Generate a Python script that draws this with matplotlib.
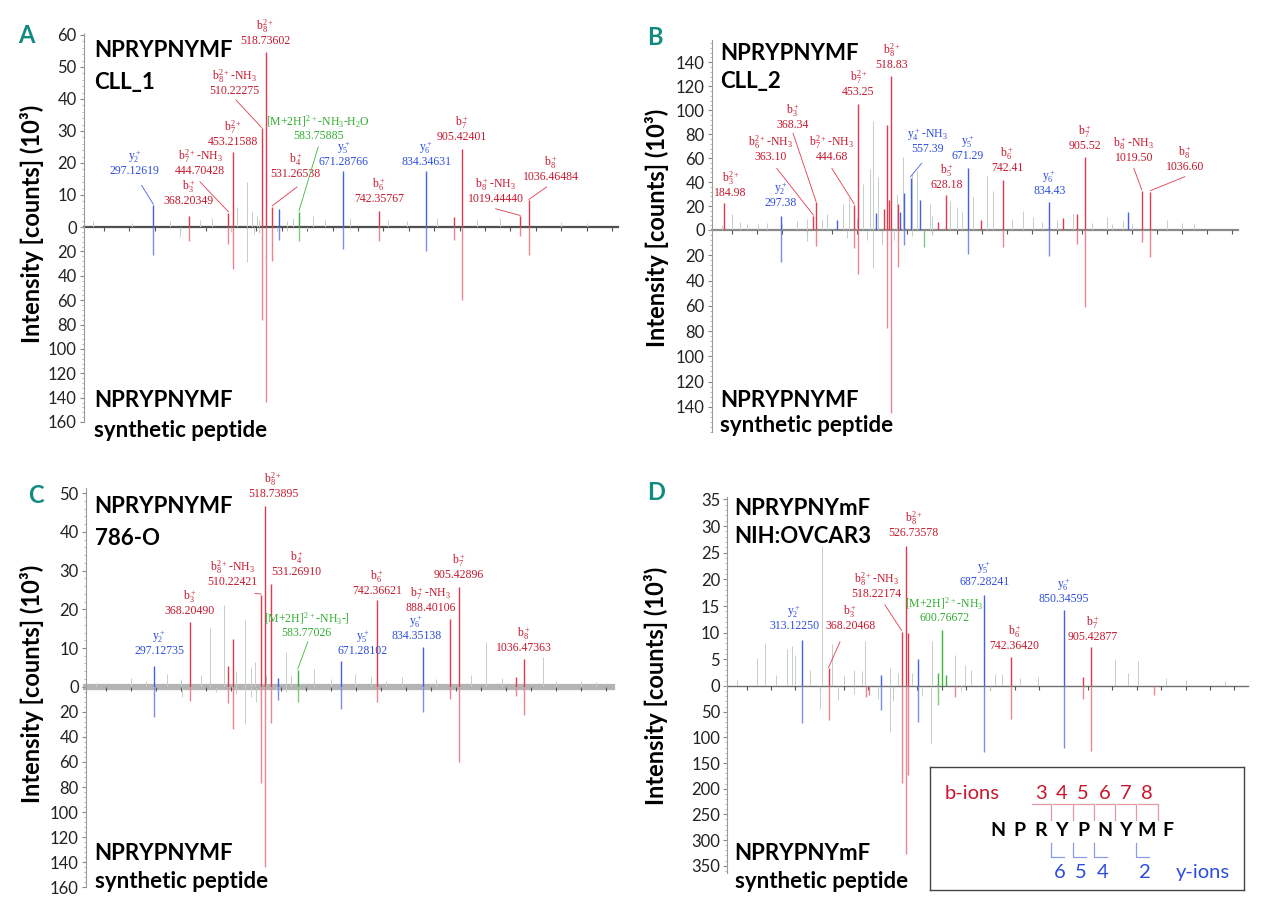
import matplotlib
matplotlib.use("Agg")
import matplotlib.pyplot as plt
from matplotlib.ticker import AutoMinorLocator

W, H = 1280, 915

plt.rcParams['font.family'] = ['Lato', 'DejaVu Sans']
plt.rcParams['mathtext.default'] = 'regular'

# ---------------- panel A : CLL_1 (top) vs synthetic peptide (bottom) ----------------
A_kind = ["y", "b", "b", "b", "b", "b", "b", "y", "m", "y", "b", "y", "b", "b", "b", "b"]
A_ion = ["y$_2^+$", "b$_3^+$", "b$_7^{2+}$-NH$_3$", "b$_7^{2+}$", "b$_8^{2+}$-NH$_3$", "b$_8^{2+}$",
         "b$_4^+$", "", "[M+2H]$^{2+}$-NH$_3$-H$_2$O", "y$_5^+$", "b$_6^+$", "y$_6^+$", "",
         "b$_7^+$", "b$_8^+$-NH$_3$", "b$_8^+$"]
A_mzlab = ["297.12619", "368.20349", "444.70428", "453.21588", "510.22275", "518.73602", "531.26538", "",
           "583.75885", "671.28766", "742.35767", "834.34631", "", "905.42401", "1019.44440", "1036.46484"]
A_mz = [297.13, 368.20, 444.70, 453.22, 510.22, 518.74, 531.27, 544.6, 583.76, 671.29, 742.36, 834.35,
        888.4, 905.42, 1019.44, 1036.46]
A_up = [6.8, 3.3, 4.5, 23.5, 30.8, 54.8, 6.3, 5.7, 4.7, 17.5, 5.0, 17.5, 3.1, 24.5, 3.3, 8.3]
A_down = [23.2, 11.5, 13.7, 34.2, 76.6, 143.6, 27.9, 10.4, 11.5, 17.8, 11.5, 19.7, 10.4, 60.2, 7.7, 22.7]
A_noise_mz = [179, 254.5, 330, 389, 412, 461, 481, 490.7, 500.6, 505.7, 559.6, 572.6, 612, 635, 684.2,
              759.6, 795.8, 854.9, 933.6, 979.5, 1100, 1150]
A_noise_up = [1.8, 1.2, 1.8, 2.3, 2.8, 6.4, 14.2, 4.9, 3.3, 2.3, 1.8, 2.8, 3.3, 2.3, 2.8, 2.3, 1.8, 2.8,
              2.3, 2.8, 1.5, 1.2]
A_noise_mz_low = [348.7, 450, 481.2, 495, 505, 540, 560, 600]
A_noise_down = [8.2, 4, 28.7, 6, 5, 3, 3, 2]

# ---------------- panel B : CLL_2 ----------------
B_kind = ["b", "y", "b", "b", "y", "b", "b", "y", "b", "b", "b", "b", "b", "y", "y", "y", "y", "m", "b",
          "b", "y", "b", "b", "y", "b", "b", "b", "y", "b", "b"]
B_ion = ["b$_3^{2+}$", "y$_2^+$", "b$_6^{2+}$-NH$_3$", "b$_3^+$", "", "b$_7^{2+}$-NH$_3$", "b$_7^{2+}$", "",
         "", "", "", "b$_8^{2+}$", "", "", "", "y$_4^+$-NH$_3$", "", "", "", "b$_5^+$", "y$_5^+$", "",
         "b$_6^+$", "y$_6^+$", "", "", "b$_7^+$", "", "b$_8^+$-NH$_3$", "b$_8^+$"]
B_mzlab = ["184.98", "297.38", "363.10", "368.34", "", "444.68", "453.25", "", "", "", "", "518.83", "", "",
           "", "557.39", "", "", "", "628.18", "671.29", "", "742.41", "834.43", "", "", "905.52", "",
           "1019.50", "1036.60"]
B_mz = [184.98, 297.38, 363.10, 368.34, 409.7, 444.68, 453.25, 488.1, 504.4, 510.9, 515.0, 518.83, 532.1,
        537.0, 545.2, 557.39, 575.4, 585.2, 612.1, 628.18, 671.29, 698.6, 742.41, 834.43, 861.9, 889.6,
        905.52, 991.6, 1019.50, 1036.60]
B_up = [22.3, 11.7, 11.7, 23.1, 8.3, 20.9, 105.2, 14.5, 17.3, 87.7, 25.0, 128.6, 21.7, 15.3, 30.6, 43.7,
        25.0, 0, 7.0, 29.2, 51.5, 8.3, 41.7, 23.7, 10.0, 13.1, 61.2, 15.0, 32.8, 32.0]
B_down = [0, 25.1, 0, 12.7, 0, 14.5, 35.2, 0, 0, 78.0, 0, 145.0, 29.1, 0, 11.9, 0, 0, 13.2, 0, 0, 19.0, 0,
          13.2, 20.6, 0, 11.1, 61.3, 0, 9.3, 21.7]
B_noise_mz = [180, 199.8, 216.4, 230, 253, 270, 300, 329.7, 349.7, 380, 389.7, 422.9, 434.9, 450, 462.9,
              476.3, 481.6, 492.9, 509.7, 529.7, 541.6, 559.6, 569.6, 596.2, 600, 636.2, 649.6, 660, 682.8,
              709.6, 722.8, 760, 782.7, 802.7, 820, 850, 882.7, 920, 949.5, 960, 982.7, 1000, 1070, 1100, 1125]
B_noise_up = [4, 13.4, 6.4, 5, 5, 6, 5, 7.8, 9.2, 8, 13.4, 21.7, 27.3, 10, 38.4, 50.9, 91.3, 44.2, 27.3, 30,
              60.9, 46.7, 49.5, 21.7, 12, 24.5, 18.9, 15, 27.3, 45.4, 32.8, 9, 16.1, 10.6, 7, 8, 13.4, 6,
              10.6, 5, 7.8, 5, 8, 6, 5]
B_noise_mz_low = [350, 430, 470, 481.6, 500, 525, 560, 600]
B_noise_down = [9, 6, 8, 30.4, 12, 8, 5, 4]

# ---------------- panel C : 786-O ----------------
C_kind = ["y", "b", "b", "b", "b", "b", "b", "y", "m", "y", "b", "y", "b", "b", "b", "b"]
C_ion = ["y$_2^+$", "b$_3^+$", "", "", "b$_8^{2+}$-NH$_3$", "b$_8^{2+}$", "b$_4^+$", "",
         "[M+2H]$^{2+}$-NH$_3$-]", "y$_5^+$", "b$_6^+$", "y$_6^+$", "b$_7^+$-NH$_3$", "b$_7^+$", "", "b$_8^+$"]
C_mzlab = ["297.12735", "368.20490", "", "", "510.22421", "518.73895", "531.26910", "", "583.77026",
           "671.28102", "742.36621", "834.35138", "888.40106", "905.42896", "", "1036.47363"]
C_mz = [297.13, 368.20, 445.4, 453.6, 510.22, 518.74, 531.27, 544.1, 583.77, 671.28, 742.37, 834.35,
        888.40, 905.43, 1020.4, 1036.47]
C_up = [5.4, 16.8, 5.3, 12.3, 23.7, 46.6, 26.6, 2.2, 4.3, 6.6, 22.4, 10.2, 17.4, 25.7, 2.6, 7.1]
C_down = [23.9, 11.2, 13.3, 34.0, 77.1, 144.0, 28.7, 10.6, 12.0, 18.1, 12.0, 19.9, 10.1, 59.8, 7.4, 22.6]
C_noise_mz = [180, 249.7, 280, 323.1, 350, 390, 408.7, 435.6, 460, 478, 490, 498.4, 520, 559.6, 570, 616.7,
              650, 698.2, 730, 760, 792, 860, 930, 959.2, 991.8, 1073.4, 1100, 1150, 1179.4]
C_noise_up = [1, 2.2, 1.5, 3.4, 2, 3, 15.1, 21.1, 4, 17.2, 5, 6.5, 3, 9, 3, 4.7, 2, 3.4, 2.5, 1.5, 2.6, 2, 3,
              11.6, 2.2, 7.8, 1.5, 1.5, 1.3]
C_noise_mz_low = [351.6, 420, 460, 478, 490, 500, 540, 560]
C_noise_down = [8, 4, 6, 29.8, 8, 12, 3, 4]

# ---------------- panel D : NIH:OVCAR3 (oxidised Met) ----------------
D_kind = ["y", "b", "b", "b", "y", "b", "b", "b", "y", "m", "m", "m", "b", "y", "b", "y", "b", "b", "b"]
D_ion = ["y$_2^+$", "b$_3^+$", "", "", "", "b$_8^{2+}$-NH$_3$", "b$_8^{2+}$", "", "", "",
         "[M+2H]$^{2+}$-NH$_3$", "", "", "y$_5^+$", "b$_6^+$", "y$_6^+$", "", "b$_7^+$", ""]
D_mzlab = ["313.12250", "368.20468", "", "", "", "518.22174", "526.73578", "", "", "", "600.76672", "", "",
           "687.28241", "742.36420", "850.34595", "", "905.42877", ""]
D_mz = [313.12, 368.20, 444.4, 452.0, 475.4, 518.22, 526.74, 531.4, 552.4, 592.5, 600.77, 609.3, 627.7,
        687.28, 742.36, 850.35, 889.5, 905.43, 1035.9]
D_up = [8.6, 3.3, 0, 0, 2.1, 10.2, 26.25, 9.9, 5.0, 2.4, 10.5, 2.1, 0, 17.1, 5.5, 14.25, 1.75, 7.4, 0]
D_down = [71.4, 66.2, 20.8, 17.5, 46.8, 189.6, 327.0, 173.4, 69.5, 37.0, 0, 0, 20.8, 128.0, 65.0, 121.4,
          26.0, 126.0, 17.5]
D_noise_mz = [180, 220.9, 237.9, 260, 282.4, 294, 299.4, 330, 354.2, 374.7, 400, 420, 436.2, 443, 494.2,
              511.3, 540, 579.7, 627.5, 648, 660, 709.5, 723.3, 760, 798.4, 955.6, 983, 1002.8, 1060, 1100, 1180]
D_noise_up = [1.2, 5.3, 8.1, 2, 6.9, 7.5, 5.9, 3, 26.3, 7.8, 2, 3, 2.8, 8.4, 3.4, 2.5, 2.5, 8.4, 5.9, 4, 3,
              2.2, 2.2, 1.5, 1.6, 5, 2.5, 4.7, 1.5, 1.2, 1]
D_noise_mz_low = [350, 387.5, 420, 470, 493.8, 500, 560, 577.5, 640, 700]
D_noise_down = [45, 27, 15, 25, 89, 30, 20, 111.7, 10, 8]

# inset sequence
SEQ = "NPRYPNYMF"
B_IONS = [3, 4, 5, 6, 7, 8]
Y_IONS = [6, 5, 4, 2]

# ---------------- label placement (layout only) ----------------
A_lab = [(260, 15.7), (366.4, 6.3), (389, 15.7), (453.2, 24.7), (457, 40.7), (517.3, 56.3), (577.6, 14.6),
         None, (621.7, 26.6), (671.5, 18.3), (742.2, 6.8), (834.5, 18.3), None, (905.2, 26.1), (971, 6.8),
         (1079.4, 13.6)]
A_lead = [(274, 13.0), None, (388.9, 14.1), None, (459.5, 39.7), None, (580, 12.5), None, (621.7, 25.0),
          None, None, None, None, None, (971, 5.7), (1071.4, 12.5)]
B_lab = [(197.5, 25.6), (297.9, 17.3), (277.5, 56.2), (322.4, 82.9), None, (400, 55.7), (453.25, 110), None,
         None, None, None, (519.9, 133), None, None, None, (591.7, 62.6), None, None, None, (630.1, 32.8),
         (671.7, 57), None, (750.9, 46.8), (834.9, 27.3), None, None, (905.9, 65.4), None, (1003.8, 55.1),
         (1105.8, 47.3)]
B_lead = [None, None, (289.8, 51.5), (322.4, 80.7), None, (400, 51.5), None, None, None, None, None, None,
          None, None, None, (579.5, 55.7), None, None, None, None, None, None, None, None, None, None, None,
          None, (1003.8, 51.5), (1105.8, 44.5)]
C_lab = [(306.8, 7.8), (368.2, 18.1), None, None, (453.6, 25.4), (535.1, 48.3), (581.6, 28.0), None,
         (602, 12.3), (714, 7.8), (742.4, 23.3), (820.5, 11.6), (849, 18.8), (905.4, 27.2), None,
         (1036.5, 8.4)]
C_lead = [None, None, None, None, (498.4, 24.1), None, None, None, (604, 11.6), None, None, None, None,
          None, None, None]
D_lab = [(298, 10.2), (412.7, 10.2), None, None, None, (467, 16.1), (542.3, 27.5), None, None, None,
         (605.1, 11.6), None, None, (687.3, 18.4), (749.8, 6.4), (850.3, 15.2), None, (910.4, 8.1), None]
D_lead = [None, (391.7, 8.3), None, None, None, (483.8, 15.2), None, None, None, None, None, None, None,
          None, None, None, None, None, None]

TXT = {"b": "#c8172c", "y": "#2c4de0", "m": "#2fae2f"}
UPC = {"b": "#e23a4c", "y": "#4460e6", "m": "#3db53d"}
LOWC = {"b": "#eb8591", "y": "#7d8ee9", "m": "#7ccb7c"}
NOISE = "#c5cfc5"
TEAL = "#138a80"
SERIF = ["Liberation Serif", "DejaVu Serif"]

fig = plt.figure(figsize=(12.8, 9.15), dpi=100)


def rect(x0, x1, y0, y1):
    return [x0 / W, 1 - y1 / H, (x1 - x0) / W, (y1 - y0) / H]


def ftext(x, y, s, **kw):
    fig.text(x / W, 1 - y / H, s, **kw)


def draw_panel(box, xmax, top, bottom, ticks_up, ticks_low, kind, ion, mzlab, mz, up, down,
               lab, lead, nmz, nup, nmz_low, ndown, base):
    x0, x1, yt, yz, yb = box
    axu = fig.add_axes(rect(x0, x1, yt, yz))
    axl = fig.add_axes(rect(x0, x1, yz, yb))
    for ax in (axu, axl):
        ax.set_xlim(160, xmax)
        ax.patch.set_alpha(0)
        ax.spines["top"].set_visible(False)
        ax.spines["right"].set_visible(False)
        ax.spines["left"].set_color("#9a9a9a")
        ax.spines["left"].set_linestyle((0, (1.5, 1)))
        ax.tick_params(axis="y", length=3, color="#888888", labelsize=12, pad=2, labelcolor="#222222")
    axu.set_ylim(0, top)
    axu.set_yticks(ticks_up)
    axl.set_ylim(bottom, 0)
    axl.set_yticks(ticks_low)
    for ax in (axu, axl):
        ax.yaxis.set_minor_locator(AutoMinorLocator(5))
        ax.tick_params(axis="y", which="minor", length=1.5, color="#aaaaaa")
    axu.spines["bottom"].set_color(base[0])
    axu.spines["bottom"].set_linewidth(base[1])
    axu.spines["bottom"].set_zorder(1)
    axu.set_xticks(range(200, int(xmax) + 1, 50))
    axu.tick_params(axis="x", length=3, width=0.8, color="#555555", labelbottom=False)
    axl.spines["bottom"].set_visible(False)
    axl.set_xticks([])

    axu.vlines(nmz, 0, nup, colors=NOISE, lw=0.7, zorder=2)
    axl.vlines(nmz_low, 0, ndown, colors=NOISE, lw=0.7, zorder=2)
    for i in range(len(mz)):
        k = kind[i]
        if up[i] > 0:
            axu.vlines(mz[i], 0, up[i], colors=UPC[k], lw=1.0, zorder=3)
        if down[i] > 0:
            axl.vlines(mz[i], 0, down[i], colors=LOWC[k], lw=1.0, zorder=3)
        if lab[i] is not None:
            lx, ly = lab[i]
            axu.text(lx, ly, ion[i] + "\n" + mzlab[i], ha="center", va="bottom", color=TXT[k],
                     fontsize=8.5, family=SERIF, linespacing=1.0, zorder=4)
        if lead[i] is not None:
            sx, sy = lead[i]
            axu.plot([sx, mz[i]], [sy, up[i] + top * 0.005], color=UPC[k], lw=0.6, clip_on=False,
                     zorder=4)
    return axu, axl


draw_panel((83.7, 618, 33, 227, 422), 1212, 60.6, 160, range(0, 61, 10), range(20, 161, 20),
           A_kind, A_ion, A_mzlab, A_mz, A_up, A_down, A_lab, A_lead,
           A_noise_mz, A_noise_up, A_noise_mz_low, A_noise_down, ("#505050", 1.6))
draw_panel((711.8, 1238, 40, 230, 432), 1212, 158.6, 160, range(0, 141, 20), range(20, 141, 20),
           B_kind, B_ion, B_mzlab, B_mz, B_up, B_down, B_lab, B_lead,
           B_noise_mz, B_noise_up, B_noise_mz_low, B_noise_down, ("#8a8a8a", 1.6))
axu_c, axl_c = draw_panel((85.7, 612, 486.7, 686.7, 887.3), 1212, 51.7, 160, range(0, 51, 10),
                          range(20, 161, 20), C_kind, C_ion, C_mzlab, C_mz, C_up, C_down, C_lab, C_lead,
                          C_noise_mz, C_noise_up, C_noise_mz_low, C_noise_down, ("#b4b4b4", 4.5))
axu_c.axhline(0, color="#8c8c8c", lw=0.7, zorder=1.5)
draw_panel((727, 1248, 496.7, 686, 873.3), 1228, 35.5, 364.8, range(0, 36, 5), range(50, 351, 50),
           D_kind, D_ion, D_mzlab, D_mz, D_up, D_down, D_lab, D_lead,
           D_noise_mz, D_noise_up, D_noise_mz_low, D_noise_down, ("#707070", 1.0))

# panel letters
for x, y, s in [(26.5, 43.3, "A"), (655, 45, "B"), (35.7, 503.3, "C"), (656, 500, "D")]:
    ftext(x, y, s, ha="center", va="baseline", fontsize=17, fontweight="bold", color=TEAL)

# sample / reference names
names = [(93.9, 56.7, "NPRYPNYMF"), (93.9, 89.3, "CLL_1"), (93.9, 406.7, "NPRYPNYMF"),
         (93.9, 436.7, "synthetic peptide"),
         (720.4, 60, "NPRYPNYMF"), (720.4, 88.3, "CLL_2"), (720.4, 406.7, "NPRYPNYMF"),
         (720.4, 431.7, "synthetic peptide"),
         (94.7, 513.3, "NPRYPNYMF"), (94.7, 545, "786-O"), (94.7, 860, "NPRYPNYMF"),
         (94.7, 888.3, "synthetic peptide"),
         (734.7, 515, "NPRYPNYmF"), (734.7, 543.3, "NIH:OVCAR3"), (734.7, 860, "NPRYPNYmF"),
         (734.7, 888.3, "synthetic peptide")]
for x, y, s in names:
    ftext(x, y, s, ha="left", va="baseline", fontsize=16, fontweight="bold", color="black")

# y axis titles
for x, y in [(31.6, 224), (657, 227.5), (31.6, 684), (656, 685.7)]:
    ftext(x, y, "Intensity [counts] (10³)", rotation=90, ha="center", va="center", fontsize=17,
          fontweight="bold")

# inset with the fragmentation scheme
ax_in = fig.add_axes(rect(930, 1244, 767, 890))
ax_in.set_xlim(930, 1244)
ax_in.set_ylim(890, 767)
ax_in.set_xticks([])
ax_in.set_yticks([])
ax_in.set_facecolor("white")
ax_in.set_zorder(5)
for s in ax_in.spines.values():
    s.set_color("#444444")
    s.set_linewidth(1.0)


def res_x(i):
    return 998 + 21.3 * i


for i, aa in enumerate(SEQ):
    ax_in.text(res_x(i), 836, aa, ha="center", va="baseline", fontsize=14, fontweight="bold")
ax_in.text(972.5, 799.3, "b-ions", ha="center", va="baseline", fontsize=14.5, color=TXT["b"])
for k in B_IONS:
    xc = res_x(k - 1)
    ax_in.text(xc, 799.3, str(k), ha="center", va="baseline", fontsize=14.5, color=TXT["b"])
    ax_in.plot([xc - 9, xc + 10.65, xc + 10.65], [804.3, 804.3, 820], color="#e49aa2", lw=0.9)
for n in Y_IONS:
    xc = res_x(9 - n)
    gap = xc - 10.65
    ax_in.plot([gap, gap, gap + 13], [843.3, 856.7, 856.7], color="#8c9ae8", lw=0.9)
    ax_in.text(xc - 2, 878.3, str(n), ha="center", va="baseline", fontsize=14.5, color=TXT["y"])
ax_in.text(1203, 878.3, "y-ions", ha="center", va="baseline", fontsize=14.5, color=TXT["y"])

fig.savefig("out.png", dpi=100)
